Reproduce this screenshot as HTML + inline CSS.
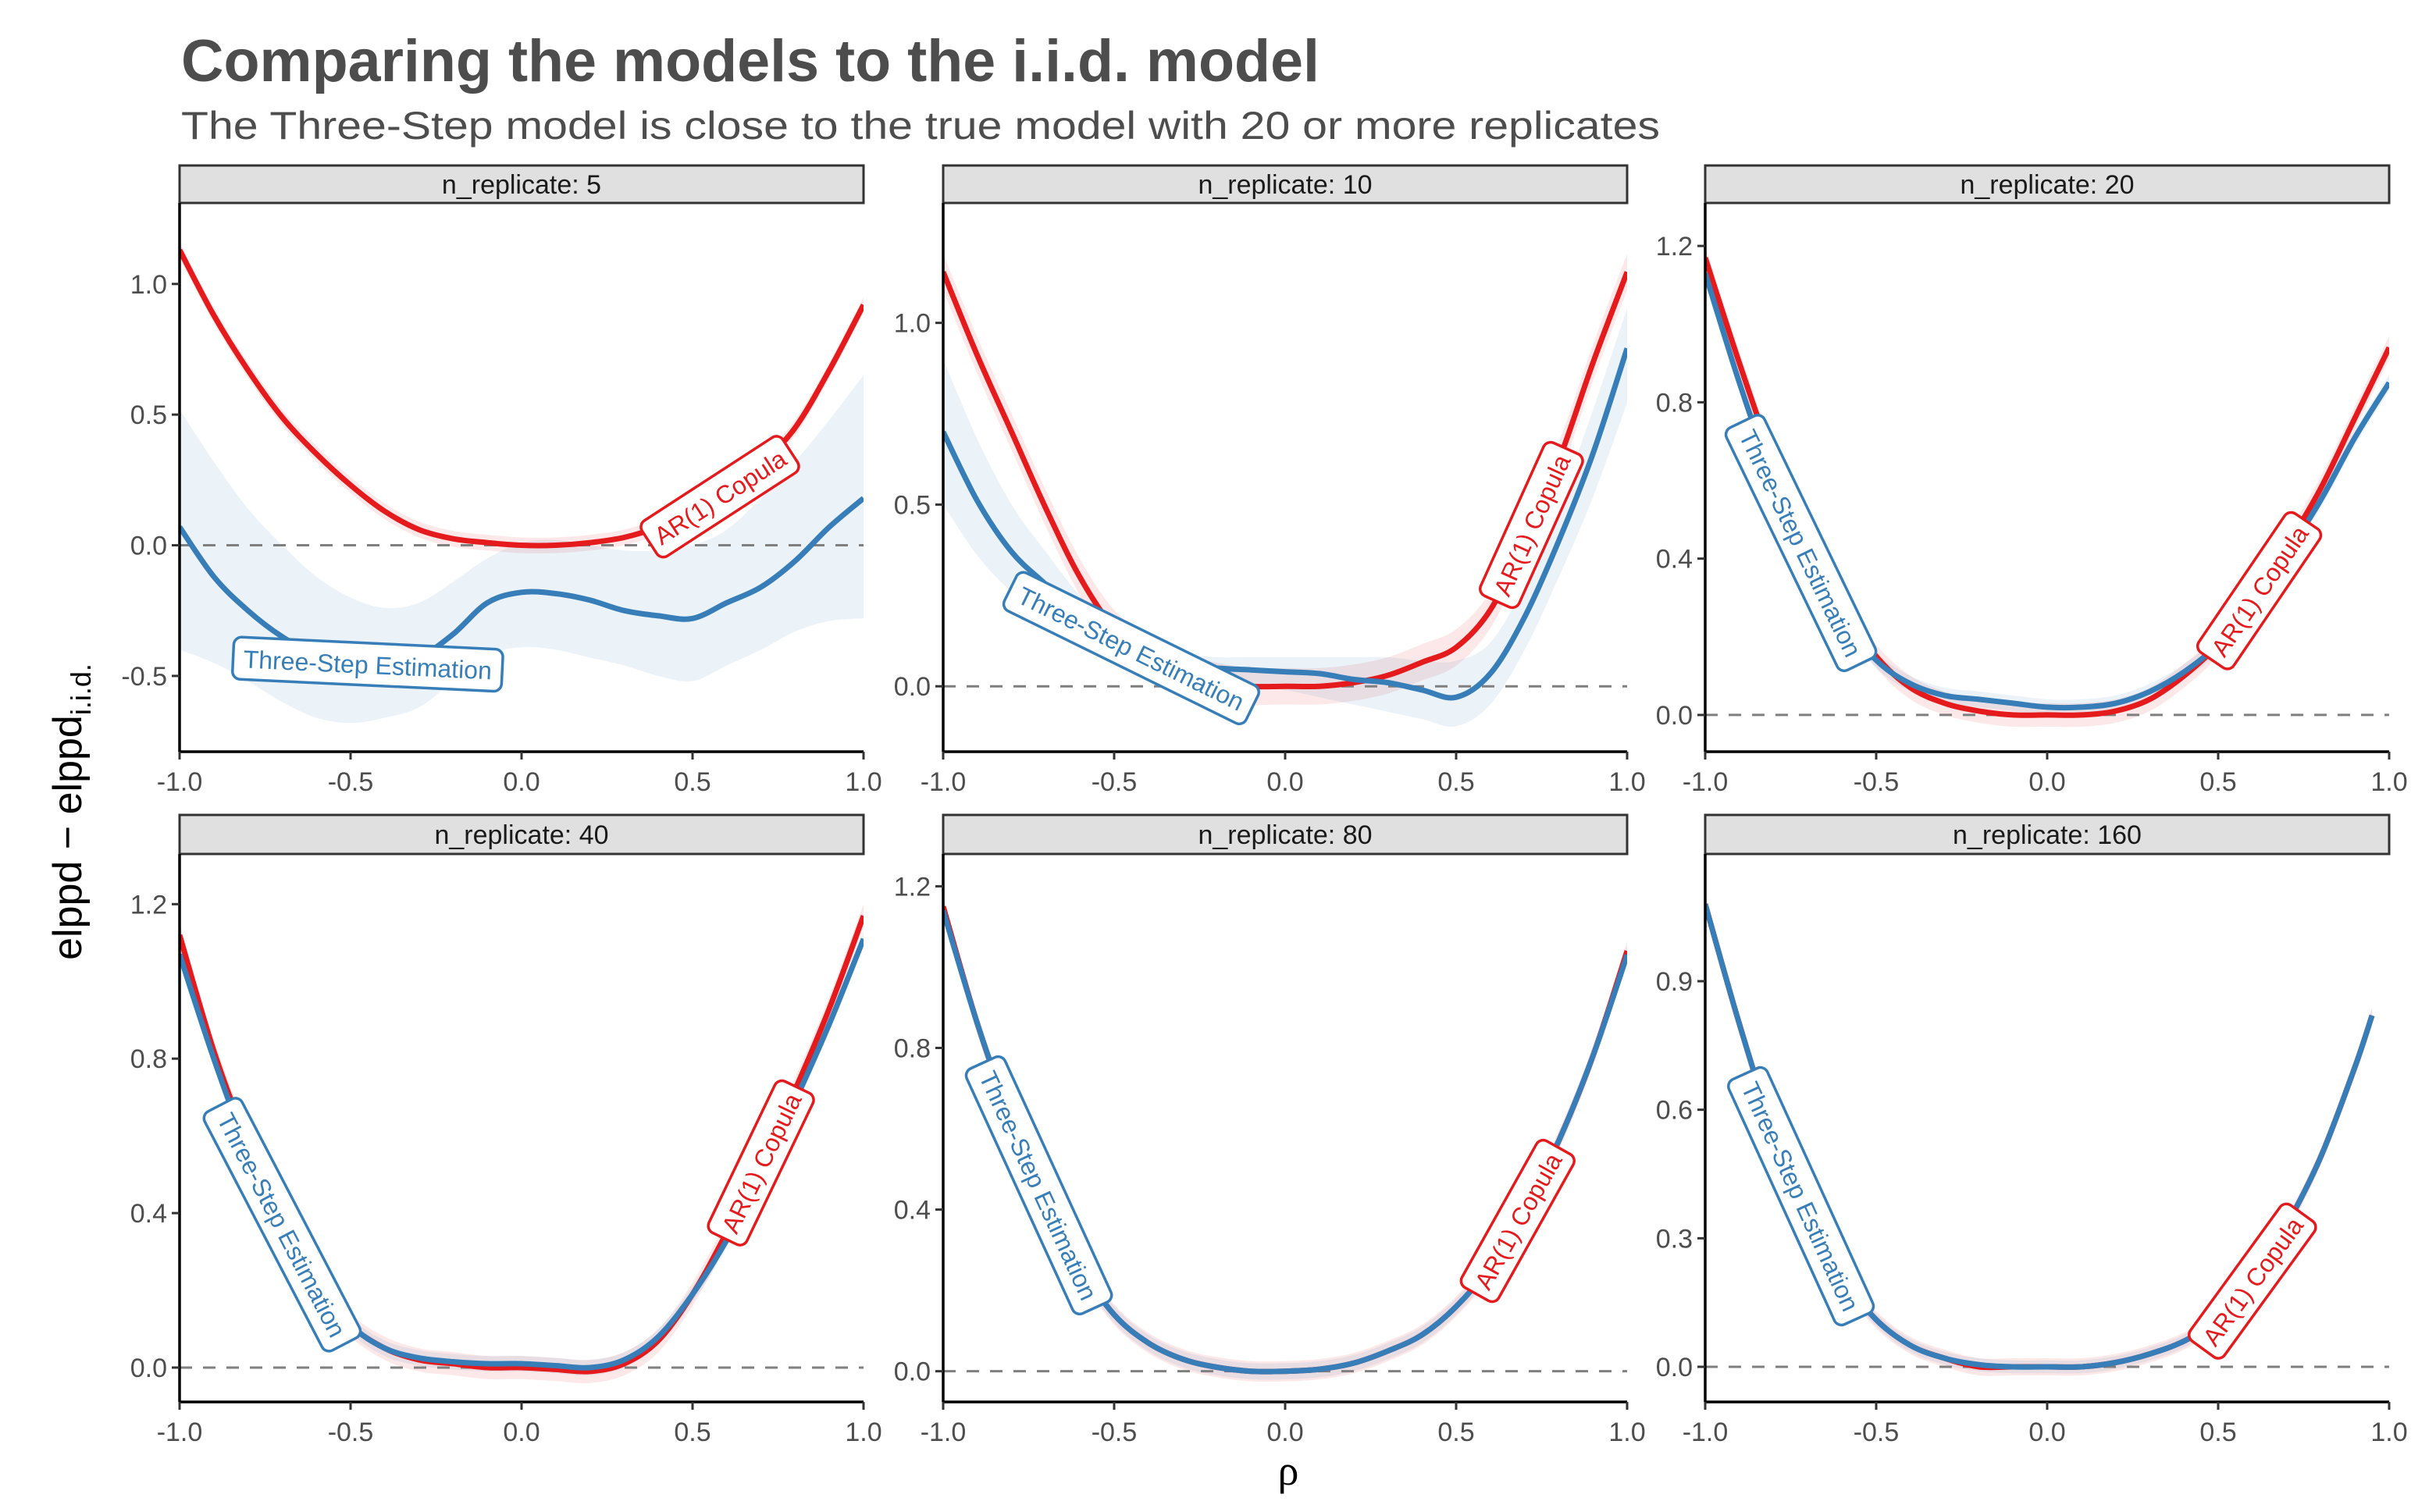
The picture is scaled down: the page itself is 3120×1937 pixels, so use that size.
<!DOCTYPE html>
<html><head><meta charset="utf-8"><style>
html,body{margin:0;padding:0;background:#fff;}
svg{display:block;}
</style></head><body>
<svg id="chart" width="3120" height="1937" viewBox="0 0 3120 1937" xmlns="http://www.w3.org/2000/svg">
<rect width="3120" height="1937" fill="#fff"/>
<text x="232" y="104" font-family="Liberation Sans, sans-serif" font-weight="bold" font-size="76" fill="#4d4d4d" textLength="1458" lengthAdjust="spacingAndGlyphs">Comparing the models to the i.i.d. model</text>
<text x="232" y="178" font-family="Liberation Sans, sans-serif" font-size="50" fill="#4d4d4d" textLength="1894" lengthAdjust="spacingAndGlyphs">The Three-Step model is close to the true model with 20 or more replicates</text>
<text transform="translate(104,1040) rotate(-90)" text-anchor="middle" font-family="Liberation Sans, sans-serif" font-size="52" fill="#000">elppd − elppd<tspan font-size="36" dy="12">i.i.d.</tspan></text>
<text x="1650" y="1902" text-anchor="middle" font-family="Liberation Serif, serif" font-size="54" fill="#000">ρ</text>
<g id="panels"></g>
</svg>
<script>
// x grid
const xs = [-1,-0.9,-0.8,-0.7,-0.6,-0.5,-0.4,-0.3,-0.2,-0.1,0,0.1,0.2,0.3,0.4,0.5,0.6,0.7,0.8,0.9,1.0];
const xs6 = [-1,-0.9,-0.8,-0.7,-0.6,-0.5,-0.4,-0.3,-0.2,-0.1,0,0.1,0.2,0.3,0.4,0.5,0.6,0.7,0.8,0.9,0.95];
const panelTitles = ["n_replicate: 5","n_replicate: 10","n_replicate: 20","n_replicate: 40","n_replicate: 80","n_replicate: 160"];
const xTicks = [-1.0,-0.5,0.0,0.5,1.0];
const yTicks1 = [-0.5,0.0,0.5,1.0];
const yTicks2 = [0.0,0.5,1.0];
const yTicks3 = [0.0,0.4,0.8,1.2];
const yTicks4 = [0.0,0.4,0.8,1.2];
const yTicks5 = [0.0,0.4,0.8,1.2];
const yTicks6 = [0.0,0.3,0.6,0.9];
const yDomain1 = [-0.79,1.31];
const yDomain2 = [-0.18,1.33];
const yDomain3 = [-0.094,1.31];
const yDomain4 = [-0.089,1.33];
const yDomain5 = [-0.076,1.28];
const yDomain6 = [-0.082,1.197];
// series values
const red1 = [1.13,0.88,0.67,0.49,0.35,0.23,0.13,0.06,0.025,0.01,0.0,0.0,0.01,0.03,0.07,0.13,0.20,0.31,0.45,0.67,0.92];
const blue1 = [0.07,-0.12,-0.25,-0.35,-0.42,-0.45,-0.46,-0.43,-0.34,-0.22,-0.18,-0.185,-0.21,-0.25,-0.27,-0.28,-0.22,-0.16,-0.06,0.07,0.18];
const blue1Lo = [-0.40,-0.45,-0.52,-0.60,-0.66,-0.68,-0.66,-0.62,-0.52,-0.42,-0.39,-0.40,-0.43,-0.46,-0.50,-0.52,-0.46,-0.40,-0.33,-0.29,-0.28];
const blue1Hi = [0.52,0.32,0.14,0.0,-0.12,-0.20,-0.24,-0.22,-0.14,-0.05,0.01,0.02,0.0,-0.02,-0.02,0.0,0.06,0.18,0.32,0.48,0.65];
const red2 = [1.14,0.91,0.70,0.49,0.30,0.16,0.09,0.04,0.015,0.0,0.0,0.0,0.01,0.03,0.066,0.107,0.21,0.40,0.62,0.89,1.14];
const blue2 = [0.70,0.51,0.37,0.28,0.19,0.13,0.08,0.06,0.05,0.045,0.04,0.035,0.019,0.01,-0.01,-0.03,0.035,0.19,0.40,0.64,0.93];
const blue2Lo = [0.50,0.36,0.26,0.20,0.14,0.09,0.05,0.03,0.01,0.0,-0.01,-0.03,-0.05,-0.07,-0.09,-0.11,-0.05,0.10,0.30,0.52,0.78];
const blue2Hi = [0.90,0.68,0.50,0.37,0.25,0.17,0.11,0.09,0.08,0.08,0.08,0.08,0.08,0.08,0.07,0.07,0.12,0.28,0.50,0.76,1.04];
const red3 = [1.17,0.90,0.65,0.45,0.28,0.15,0.07,0.03,0.01,0.0,0.0,0.0,0.01,0.04,0.10,0.18,0.29,0.43,0.58,0.76,0.94];
const blue3 = [1.13,0.85,0.60,0.40,0.25,0.14,0.08,0.05,0.04,0.03,0.02,0.02,0.03,0.06,0.11,0.18,0.28,0.41,0.55,0.71,0.85];
const red4 = [1.12,0.82,0.58,0.38,0.22,0.11,0.05,0.02,0.01,0.0,0.0,-0.005,-0.01,0.01,0.07,0.19,0.35,0.53,0.72,0.93,1.17];
const blue4 = [1.07,0.80,0.56,0.37,0.22,0.11,0.05,0.025,0.015,0.01,0.01,0.005,0.0,0.02,0.08,0.19,0.33,0.50,0.69,0.89,1.11];
const red5 = [1.15,0.86,0.62,0.42,0.26,0.14,0.07,0.03,0.01,0.0,0.0,0.005,0.02,0.05,0.09,0.16,0.26,0.40,0.57,0.78,1.04];
const blue5 = [1.14,0.86,0.62,0.42,0.26,0.14,0.07,0.03,0.01,0.0,0.0,0.005,0.02,0.05,0.09,0.16,0.26,0.40,0.57,0.78,1.03];
const red6 = [1.08,0.80,0.55,0.36,0.21,0.11,0.05,0.02,0.0,0.0,0.0,0.0,0.01,0.03,0.06,0.11,0.20,0.33,0.49,0.70,0.82];
const blue6 = [1.08,0.80,0.55,0.36,0.21,0.11,0.05,0.02,0.005,0.0,0.0,0.0,0.01,0.03,0.06,0.11,0.20,0.33,0.49,0.70,0.82];
// label anchor positions (data x)
const redLabelX = [0.58,0.72,0.62,0.70,0.68,0.60];
const blueLabelX = [-0.45,-0.45,-0.72,-0.70,-0.72,-0.72];

const RED="#E41A1C", BLUE="#377EB8";
const NS="http://www.w3.org/2000/svg";
const root=document.getElementById('panels');
function el(tag,attrs,parent){const e=document.createElementNS(NS,tag);for(const k in attrs)e.setAttribute(k,attrs[k]);(parent||root).appendChild(e);return e;}
function catmull(pts){let d="M"+pts[0][0].toFixed(1)+","+pts[0][1].toFixed(1);for(let i=0;i<pts.length-1;i++){const p0=pts[Math.max(i-1,0)],p1=pts[i],p2=pts[i+1],p3=pts[Math.min(i+2,pts.length-1)];const c1=[p1[0]+(p2[0]-p0[0])/6,p1[1]+(p2[1]-p0[1])/6],c2=[p2[0]-(p3[0]-p1[0])/6,p2[1]-(p3[1]-p1[1])/6];d+="C"+c1[0].toFixed(1)+","+c1[1].toFixed(1)+" "+c2[0].toFixed(1)+","+c2[1].toFixed(1)+" "+p2[0].toFixed(1)+","+p2[1].toFixed(1);}return d;}
function interp(x,X,Y){for(let i=0;i<X.length-1;i++){if(x>=X[i]&&x<=X[i+1]){const t=(x-X[i])/(X[i+1]-X[i]);return Y[i]+t*(Y[i+1]-Y[i]);}}return Y[Y.length-1];}

const cols=[230,1208,2184], rows=[[212,260,963],[1044,1094,1796]], W=876;
const panels=[
 {x:xs,red:red1,blue:blue1,bLo:blue1Lo,bHi:blue1Hi,rb:0.03,ticks:yTicks1,dom:yDomain1},
 {x:xs,red:red2,blue:blue2,bLo:blue2Lo,bHi:blue2Hi,rb:0.05,ticks:yTicks2,dom:yDomain2},
 {x:xs,red:red3,blue:blue3,bb:0.02,rb:0.03,ticks:yTicks3,dom:yDomain3},
 {x:xs,red:red4,blue:blue4,bb:0.02,rb:0.03,ticks:yTicks4,dom:yDomain4},
 {x:xs,red:red5,blue:blue5,bb:0.02,rb:0.025,ticks:yTicks5,dom:yDomain5},
 {x:xs6,red:red6,blue:blue6,bb:0.015,rb:0.02,ticks:yTicks6,dom:yDomain6}
];
panels.forEach((p,i)=>{
 const L=cols[i%3], R=L+W, [sT,T,B]=rows[Math.floor(i/3)];
 const sx=v=>L+(v+1)/2*W;
 const sy=v=>B-(v-p.dom[0])/(p.dom[1]-p.dom[0])*(B-T);
 const g=el('g',{});
 
 
 const cp=el('clipPath',{id:'clip'+i},g); el('rect',{x:L,y:T,width:W,height:B-T},cp);
 const strip=el('rect',{x:L,y:sT,width:W,height:T-sT,fill:'#e0e0e0',stroke:'#333',"stroke-width":3},g);
 
 
 const st=el('text',{x:L+W/2,y:sT+(T-sT)/2+12,"text-anchor":"middle","font-family":"Liberation Sans, sans-serif","font-size":34,fill:'#1a1a1a'},g);
 st.textContent=panelTitles[i];
 
 
 const plot=el('g',{"clip-path":"url(#clip"+i+")"},g);
 function band(lo,hi,col,name){const up=p.x.map((x,k)=>[sx(x),sy(hi[k])]);const dn=p.x.map((x,k)=>[sx(x),sy(lo[k])]).reverse();const d=catmull(up)+"L"+catmull(dn).slice(1)+"Z";const b=el('path',{d:d,fill:col,opacity:0.1},plot);}
 band(p.red.map(v=>v-p.rb),p.red.map(v=>v+p.rb),RED,'red-band-'+(i+1));
 if(p.bLo) band(p.bLo,p.bHi,BLUE,'blue-band-'+(i+1)); else band(p.blue.map(v=>v-p.bb),p.blue.map(v=>v+p.bb),BLUE,'blue-band-'+(i+1));
 const z=el('line',{x1:L,x2:R,y1:sy(0),y2:sy(0),stroke:'#7f7f7f',"stroke-width":3,"stroke-dasharray":"16,14"},plot);
 
 
 const rl=el('path',{d:catmull(p.x.map((x,k)=>[sx(x),sy(p.red[k])])),fill:'none',stroke:RED,"stroke-width":7},plot);
 
 
 const bl=el('path',{d:catmull(p.x.map((x,k)=>[sx(x),sy(p.blue[k])])),fill:'none',stroke:BLUE,"stroke-width":7},plot);
 
 
 function label(xd,Y,txt,col,w,name){const cx=sx(xd),cy=sy(interp(xd,p.x,Y));const x1=sx(xd-0.08),y1=sy(interp(xd-0.08,p.x,Y)),x2=sx(xd+0.08),y2=sy(interp(xd+0.08,p.x,Y));const ang=Math.atan2(y2-y1,x2-x1)*180/Math.PI;const lg=el('g',{transform:`translate(${cx.toFixed(1)},${cy.toFixed(1)}) rotate(${ang.toFixed(1)})`},g);el('rect',{x:-w/2,y:-27,width:w,height:54,rx:10,fill:'#fff',stroke:col,"stroke-width":3.5},lg);const t=el('text',{x:0,y:12,"text-anchor":"middle","font-family":"Liberation Sans, sans-serif","font-size":32,fill:col},lg);t.textContent=txt;}
 label(redLabelX[i],p.red,"AR(1) Copula",RED,215,'ar1-copula-label-'+(i+1));
 label(blueLabelX[i],p.blue,"Three-Step Estimation",BLUE,345,'three-step-label-'+(i+1));
 el('line',{x1:L,x2:L,y1:T,y2:B,stroke:'#000',"stroke-width":3.5},g);
 el('line',{x1:L,x2:R,y1:B,y2:B,stroke:'#000',"stroke-width":3.5},g);
 p.ticks.forEach(v=>{el('line',{x1:L-10,x2:L,y1:sy(v),y2:sy(v),stroke:'#333',"stroke-width":3},g);const t=el('text',{x:L-16,y:sy(v)+12,"text-anchor":"end","font-family":"Liberation Sans, sans-serif","font-size":34,fill:'#4d4d4d'},g);t.textContent=v.toFixed(1);});
 xTicks.forEach(v=>{el('line',{x1:sx(v),x2:sx(v),y1:B,y2:B+10,stroke:'#333',"stroke-width":3},g);const t=el('text',{x:sx(v),y:B+50,"text-anchor":"middle","font-family":"Liberation Sans, sans-serif","font-size":34,fill:'#4d4d4d'},g);t.textContent=v.toFixed(1);});
});
</script>
</body></html>
